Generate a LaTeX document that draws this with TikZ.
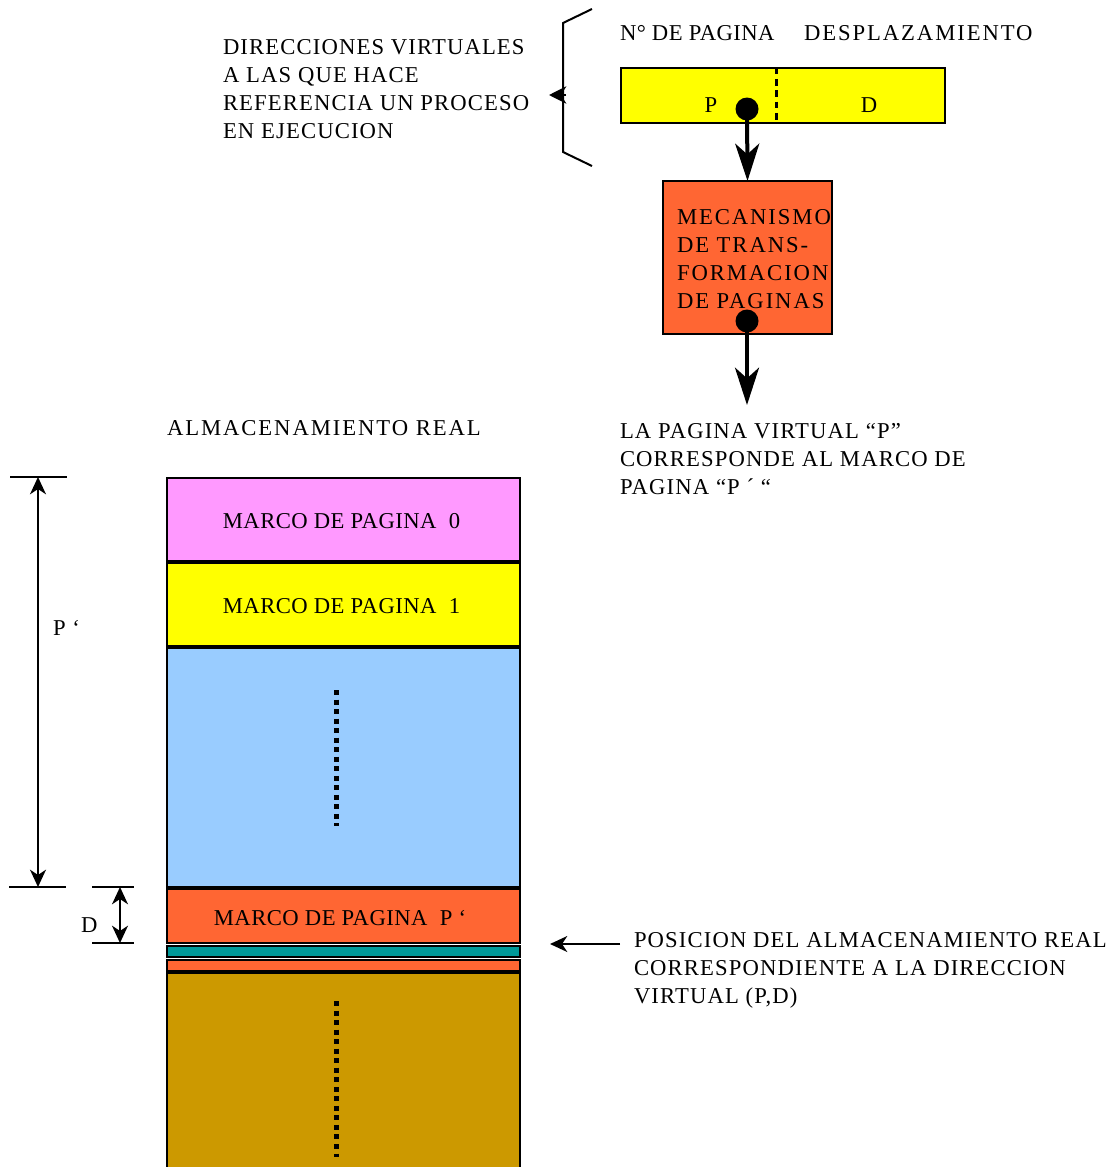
\documentclass[tikz,border=0pt]{standalone}
\usepackage{fontspec}
\setmainfont{Liberation Serif}
\usetikzlibrary{arrows.meta}
\definecolor{yel}{HTML}{FFFF00}
\definecolor{orng}{HTML}{FF6633}
\definecolor{pnk}{HTML}{FF99FF}
\definecolor{lblue}{HTML}{99CCFF}
\definecolor{teal2}{HTML}{009999}
\definecolor{gold2}{HTML}{CC9900}
\begin{document}
\begin{tikzpicture}[x=0.75pt,y=-0.75pt,
  every node/.style={inner sep=0pt, outer sep=0pt},
  txt/.style={font=\fontsize{17}{21}\selectfont\addfontfeature{LetterSpace=5}, anchor=base west, align=left},
  ntxt/.style={font=\fontsize{17}{21}\selectfont\addfontfeature{LetterSpace=2}, anchor=base west, align=left},
  wtxt/.style={font=\fontsize{17}{21}\selectfont\addfontfeature{LetterSpace=8.5}, anchor=base west, align=left},
  ctxt/.style={font=\fontsize{17}{21}\selectfont\addfontfeature{LetterSpace=2}, anchor=base},
  mem/.style={draw, line width=1.5pt, minimum width=264.75pt},
  bigarrow/.style={line width=3pt, -{Stealth[length=28pt,width=18pt,inset=8pt]}},
  dimarrow/.style={line width=1.5pt, {Stealth[length=13pt,width=12pt,inset=4pt]}-{Stealth[length=13pt,width=12pt,inset=4pt]}},
  onearrow/.style={line width=1.5pt, -{Stealth[length=13pt,width=12pt,inset=4pt]}},
  tick/.style={line width=1.5pt},
  dots/.style={line width=3.75pt, dash pattern=on 3.75pt off 3.4pt},
  dot/.style={circle, fill=black, minimum size=17.25pt}
]
\useasboundingbox (0,0) rectangle (1112,1167);

% --- top: virtual address ---
\node[txt] (dirv) at (223,138) {DIRECCIONES VIRTUALES\\A LAS QUE HACE\\REFERENCIA UN PROCESO\\EN EJECUCION};
\draw[line width=1.5pt] (592,9) -- (563,23) -- (563,152) -- (592,166);
\coordinate (brm) at (566,95);
\coordinate (brt) at (549,95);
\draw[line width=1.5pt, -{Stealth[length=13pt,width=13pt,inset=4pt]}] (brm) -- (brt);

\node[ntxt] (npag) at (620,40) {N° DE PAGINA};
\node[wtxt] (desp) at (804,40) {DESPLAZAMIENTO};

\node[draw, line width=1.5pt, fill=yel, minimum width=243pt, minimum height=41.25pt] (vaddr) at (783,95) {};
\coordinate (dx) at (776,0);
\draw[line width=2.25pt, dash pattern=on 5pt off 3.5pt] (dx |- vaddr.north) -- (dx |- vaddr.south);
\node[ctxt] (lp) at (711,112) {P};
\node[ctxt] (ld) at (869,112) {D};
\node[dot] (dotP) at (747,109) {};

% --- mechanism ---
\node[draw, line width=1.5pt, fill=orng, minimum width=126.75pt, minimum height=114.75pt] (mech) at (747.5,257.5) {};
\node[wtxt] (mtxt) at (677,308) {MECANISMO\\DE TRANS-\\FORMACION\\DE PAGINAS};
\node[dot] (dotM) at (747,321) {};
\coordinate (mend) at (747,405);
\draw[bigarrow] (dotP.center) -- (mech.north);
\draw[bigarrow] (dotM.center) -- (mend);

\node[txt] (res) at (620,494) {LA PAGINA VIRTUAL “P”\\CORRESPONDE AL MARCO DE\\PAGINA “P ´ “};
\node[wtxt] (alm) at (167,435) {ALMACENAMIENTO REAL};

% --- real storage ---
\node[mem, fill=pnk, minimum height=62.25pt] (m0) at (343.5,519.5) {};
\node[mem, fill=yel, minimum height=62.25pt] (m1) at (343.5,604.5) {};
\node[mem, fill=lblue, minimum height=179.25pt] (mb) at (343.5,767.5) {};
\node[mem, fill=orng, minimum height=40.5pt] (mp) at (343.5,916) {};
\node[mem, fill=teal2, minimum height=8.25pt] (mt) at (343.5,951.5) {};
\node[mem, fill=orng, minimum height=8.25pt] (mo) at (343.5,965.5) {};
\node[mem, fill=gold2, minimum height=151.5pt] (mg) at (343.5,1074) {};

\node[ctxt] (t0) at (341.5,528) {MARCO DE PAGINA\ \ 0};
\node[ctxt] (t1) at (341.5,613) {MARCO DE PAGINA\ \ 1};
\node[ctxt] (tp) at (340,925) {MARCO DE PAGINA\ \ P ‘};

\draw[dots] (336,690) -- (336,826);
\draw[dots] (336,1001) -- (336,1157);

% --- dimensions ---
\coordinate (pa1) at (10,477); \coordinate (pa2) at (67,477);
\coordinate (pb1) at (9,887);  \coordinate (pb2) at (66,887);
\draw[tick] (pa1) -- (pa2);
\draw[tick] (pb1) -- (pb2);
\coordinate (ptop) at (38,477); \coordinate (pbot) at (38,887);
\draw[dimarrow] (ptop) -- (pbot);
\node[txt] (lpp) at (53,635) {P ‘};

\coordinate (da1) at (92,887); \coordinate (da2) at (134,887);
\coordinate (db1) at (92,943); \coordinate (db2) at (134,943);
\draw[tick] (da1) -- (da2);
\draw[tick] (db1) -- (db2);
\coordinate (dtop) at (120,887); \coordinate (dbot) at (120,943);
\draw[dimarrow] (dtop) -- (dbot);
\node[txt] (ldd) at (81,932) {D};

% --- position arrow ---
\coordinate (posA) at (620,944);
\coordinate (posB) at (550,944);
\draw[onearrow] (posA) -- (posB);
\node[txt] (pos) at (634,1003) {POSICION DEL ALMACENAMIENTO REAL\\CORRESPONDIENTE A LA DIRECCION\\VIRTUAL (P,D)};
\end{tikzpicture}
\end{document}
